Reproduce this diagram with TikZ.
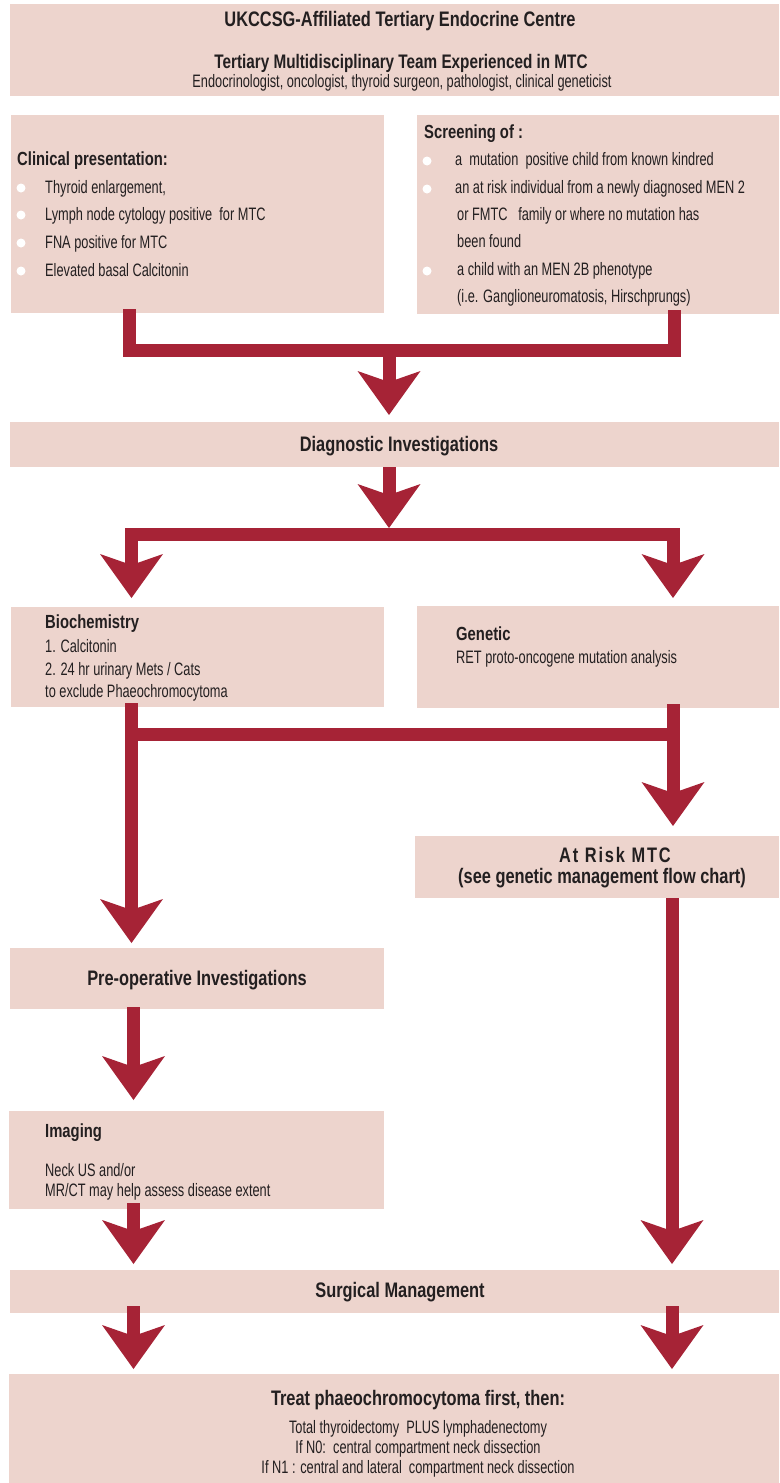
\documentclass[tikz,border=0pt]{standalone}
\usepackage{fontspec}
\usetikzlibrary{arrows.meta}
\newfontfamily\rfont[FakeStretch=0.71]{Liberation Sans}
\newfontfamily\bfont[FakeStretch=0.78]{Liberation Sans}
\newfontfamily\bwfont[FakeStretch=0.78,LetterSpace=9]{Liberation Sans}
\definecolor{boxpink}{RGB}{237,212,205}
\definecolor{arrowred}{RGB}{166,35,54}
\definecolor{ink}{RGB}{35,31,32}
\tikzset{
  box/.style={fill=boxpink, draw=none, inner sep=0pt, outer sep=0pt, anchor=north west},
  reg/.style={font=\rfont\fontsize{18}{20}\selectfont, text=ink, inner sep=0pt},
  hd/.style={font=\bfont\bfseries\fontsize{19}{22}\selectfont, text=ink, inner sep=0pt},
  hdc/.style={font=\bfont\bfseries\fontsize{21}{24}\selectfont, text=ink, inner sep=0pt},
  conn/.style={draw=arrowred, line width=13pt, line join=miter},
  arr/.style={-{Stealth[length=44pt, width=63pt, inset=11pt, line width=0pt]}},
  arrboth/.style={{Stealth[length=44pt, width=63pt, inset=11pt, line width=0pt]}-{Stealth[length=44pt, width=63pt, inset=11pt, line width=0pt]}},
  bul/.style={circle, fill=white, minimum size=9pt, inner sep=0pt},
}
\begin{document}
\begin{tikzpicture}[x=1pt, y=-1pt]
\useasboundingbox (0,0) rectangle (779,1483);
% boxes
\node[box, minimum width=769pt, minimum height=92pt] (top) at (10,4) {};
\node[box, minimum width=373pt, minimum height=198pt] (clin) at (11,115) {};
\node[box, minimum width=362pt, minimum height=199pt] (scr) at (417,115) {};
\node[box, minimum width=769pt, minimum height=45pt] (diag) at (10,422) {};
\node[box, minimum width=373pt, minimum height=100pt] (bio) at (11,607) {};
\node[box, minimum width=362pt, minimum height=102pt] (gen) at (417,606) {};
\node[box, minimum width=364pt, minimum height=62pt] (risk) at (415,836) {};
\node[box, minimum width=374pt, minimum height=61pt] (pre) at (10,948) {};
\node[box, minimum width=375pt, minimum height=98pt] (img) at (9,1111) {};
\node[box, minimum width=769pt, minimum height=43pt] (surg) at (10,1270) {};
\node[box, minimum width=770pt, minimum height=109pt] (fin) at (9,1374) {};
% guide coordinates
\coordinate (c1l) at (129.5,0);
\coordinate (c1r) at (674,0);
\coordinate (cc) at (389,0);
\coordinate (c2l) at (131.5,0);
\coordinate (c2r) at (673,0);
\coordinate (c3l) at (133.5,0);
\coordinate (c3r) at (672,0);
\coordinate (r1) at (0,350.5);
\coordinate (r2) at (0,534.5);
\coordinate (r3) at (0,734.5);
% connectors
\draw[conn] ([yshift=4pt]clin.south -| c1l) |- (r1 -| cc) -| ([yshift=4pt]scr.south -| c1r);
\draw[conn, arr] (r1 -| cc) -- ([yshift=7pt]diag.north -| cc);
\draw[conn, arr] (diag.south -| cc) -- ([yshift=6.5pt]r2 -| cc);
\draw[conn, arrboth] ([yshift=9pt]bio.north -| c2l) |- (r2 -| cc) -| ([yshift=8pt]gen.north -| c2r);
\draw[conn, arr] ([yshift=4pt]bio.south -| c2l) -- ([yshift=5pt]pre.north -| c2l);
\draw[conn, arr] ([yshift=4pt]gen.south -| c2r) -- ([yshift=10pt]risk.north -| c2r);
\draw[conn] (r3 -| c2l) -- (r3 -| c2r);
\draw[conn, arr] ([yshift=2pt]pre.south -| c3l) -- ([yshift=11pt]img.north -| c3l);
\draw[conn, arr] ([yshift=6pt]img.south -| c3l) -- ([yshift=6pt]surg.north -| c3l);
\draw[conn, arr] (risk.south -| c3r) -- ([yshift=6pt]surg.north -| c3r);
\draw[conn, arr] ([yshift=7pt]surg.south -| c3l) -- ([yshift=5pt]fin.north -| c3l);
\draw[conn, arr] ([yshift=7pt]surg.south -| c3r) -- ([yshift=5pt]fin.north -| c3r);
% top box text
\node[hdc, anchor=base] (t1) at (400,26) {UKCCSG-Affiliated Tertiary Endocrine Centre};
\node[hd, font=\bfont\bfseries\fontsize{19.6}{22}\selectfont, anchor=base] (t2) at (401,68) {Tertiary Multidisciplinary Team Experienced in MTC};
\node[reg, anchor=base] (t3) at (402,87) {Endocrinologist, oncologist, thyroid surgeon, pathologist, clinical geneticist};
% clinical
\node[hd, anchor=base west] (ch) at (17,165) {Clinical presentation:};
\node[reg, anchor=base west] (c1) at (45,193) {Thyroid enlargement,};
\node[reg, anchor=base west] (c2) at (45,220) {Lymph node cytology positive\ \ for MTC};
\node[reg, anchor=base west] (c3) at (45,248) {FNA positive for MTC};
\node[reg, anchor=base west] (c4) at (45,276) {Elevated basal Calcitonin};
\node[bul] (cb1) at (21,188) {};
\node[bul] (cb2) at (21,215) {};
\node[bul] (cb3) at (21,243) {};
\node[bul] (cb4) at (21,271) {};
% screening
\node[hd, anchor=base west] (sh) at (424,138) {Screening of :};
\node[reg, anchor=base west] (s1) at (455,165) {a\ \ mutation\ \ positive child from known kindred};
\node[reg, anchor=base west] (s2) at (455,193) {an at risk individual from a newly diagnosed MEN 2};
\node[reg, anchor=base west] (s3) at (457,220) {or FMTC\ \ \ family or where no mutation has};
\node[reg, anchor=base west] (s4) at (457,247) {been found};
\node[reg, anchor=base west] (s5) at (457,275) {a child with an MEN 2B phenotype};
\node[reg, anchor=base west] (s6) at (457,302) {(i.e. Ganglioneuromatosis, Hirschprungs)};
\node[bul] (sb1) at (427,161) {};
\node[bul] (sb2) at (427,189) {};
\node[bul] (sb3) at (427,271) {};
% diagnostic
\node[hdc, anchor=base] (dh) at (399,451) {Diagnostic Investigations};
% biochemistry
\node[hd, anchor=base west] (bh) at (45,628) {Biochemistry};
\node[reg, anchor=base west] (b1) at (45,652) {1. Calcitonin};
\node[reg, anchor=base west] (b2) at (45,675) {2. 24 hr urinary Mets / Cats};
\node[reg, anchor=base west] (b3) at (45,697) {to exclude Phaeochromocytoma};
% genetic
\node[hd, anchor=base west] (gh) at (456,640) {Genetic};
\node[reg, anchor=base west] (g1) at (456,663) {RET proto-oncogene mutation analysis};
% at risk
\node[hdc, font=\bwfont\bfseries\fontsize{21}{24}\selectfont, anchor=base] (ah) at (615,862) {At Risk MTC};
\node[hdc, anchor=base] (a1) at (602,883) {(see genetic management flow chart)};
% pre-op
\node[hdc, anchor=base] (ph) at (197,985) {Pre-operative Investigations};
% imaging
\node[hd, anchor=base west] (ih) at (45,1137) {Imaging};
\node[reg, anchor=base west] (i1) at (45,1176) {Neck US and/or};
\node[reg, anchor=base west] (i2) at (45,1196) {MR/CT may help assess disease extent};
% surgical
\node[hdc, anchor=base] (mh) at (400,1297) {Surgical Management};
% final
\node[hdc, anchor=base] (fh) at (418,1405) {Treat phaeochromocytoma first, then:};
\node[reg, anchor=base] (f1) at (418,1433) {Total thyroidectomy\ \ PLUS lymphadenectomy};
\node[reg, anchor=base] (f2) at (418,1453) {If N0:\ \ central compartment neck dissection};
\node[reg, anchor=base] (f3) at (418,1473) {If N1 : central and lateral\ \ compartment neck dissection};
\end{tikzpicture}
\end{document}
